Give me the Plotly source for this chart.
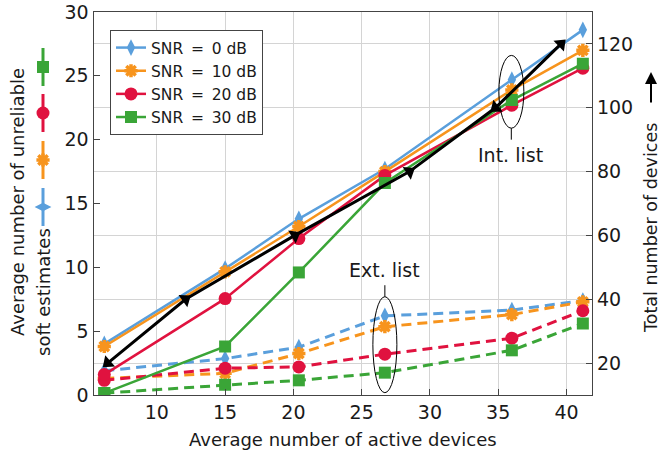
import plotly.graph_objects as go

# ---- data ----
x_active = [6.15, 15.0, 20.4, 26.7, 36.0, 41.2]

int_snr0 = [4.0, 9.9, 13.8, 17.7, 24.7, 28.6]
int_snr10 = [3.8, 9.65, 13.2, 17.5, 23.9, 27.0]
int_snr20 = [1.6, 7.55, 12.25, 17.2, 22.7, 25.6]
int_snr30 = [0.15, 3.8, 9.6, 16.6, 23.1, 25.95]

ext_snr0 = [1.9, 2.85, 3.75, 6.2, 6.65, 7.4]
ext_snr10 = [1.3, 1.7, 3.25, 5.35, 6.3, 7.3]
ext_snr20 = [1.15, 2.1, 2.2, 3.2, 4.45, 6.6]
ext_snr30 = [0.15, 0.8, 1.15, 1.75, 3.5, 5.6]

total_x = [6.4, 12.1, 20.1, 28.5, 34.8, 39.6]
total_devices = [20, 40, 60, 80, 100, 120]
arrow_angles = [139, -36, -30, -33, 142, -44]

series_names = ["SNR\u2002=\u20020 dB", "SNR\u2002=\u200210 dB",
                "SNR\u2002=\u200220 dB", "SNR\u2002=\u200230 dB"]
colors = ["#5a9fdc", "#f7941d", "#e0123f", "#3aa537"]
symbols = ["diamond-tall", "asterisk-open", "circle", "square"]
sizes = [12, 11, 13, 12]

x_ticks = [10, 15, 20, 25, 30, 35, 40]
left_ticks = [0, 5, 10, 15, 20, 25, 30]
right_ticks = [20, 40, 60, 80, 100, 120]

W, H = 663, 458
FONT = "DejaVu Sans"
TXT = "#1a1a1a"

fig = go.Figure()

ints = [int_snr0, int_snr10, int_snr20, int_snr30]
exts = [ext_snr0, ext_snr10, ext_snr20, ext_snr30]

def marker(i):
    m = dict(symbol=symbols[i], size=sizes[i], color=colors[i])
    if symbols[i] == "asterisk-open":
        m["line"] = dict(color=colors[i], width=3.5)
    else:
        m["line"] = dict(width=0)
    return m

# dashed (ext list)
for i in range(4):
    fig.add_trace(go.Scatter(x=x_active, y=exts[i], mode="lines+markers",
                             line=dict(color=colors[i], width=3, dash="10px,6px"),
                             marker=marker(i), showlegend=False,
                             xaxis="x", yaxis="y"))
# solid (int list)
for i in range(4):
    fig.add_trace(go.Scatter(x=x_active, y=ints[i], mode="lines+markers",
                             name=series_names[i],
                             line=dict(color=colors[i], width=2.5),
                             marker=marker(i), showlegend=True,
                             xaxis="x", yaxis="y"))

# total devices (right axis)
fig.add_trace(go.Scatter(x=total_x, y=total_devices, mode="lines+markers",
                         line=dict(color="black", width=3),
                         marker=dict(symbol="triangle-right", size=13, color="black",
                                     angle=arrow_angles),
                         showlegend=False, xaxis="x", yaxis="y2"))

# decorative rotated legend symbols beside the left title (pixel overlay axes)
sym_y = [207, 160, 113, 67]
for i in range(4):
    fig.add_trace(go.Scatter(x=[43, 43], y=[sym_y[i] - 19, sym_y[i] + 19], mode="lines",
                             line=dict(color=colors[i], width=3), showlegend=False,
                             xaxis="x3", yaxis="y3", hoverinfo="skip"))
    fig.add_trace(go.Scatter(x=[43], y=[sym_y[i]], mode="markers",
                             marker=dict(marker(i), symbol=("diamond-wide" if i == 0 else symbols[i])),
                             showlegend=False, xaxis="x3", yaxis="y3", hoverinfo="skip"))

x0p, x1p = 93.5 / W, 592 / W
y0p, y1p = 1 - 395 / H, 1 - 12 / H

axis_common = dict(showline=True, linecolor="#444", linewidth=1.2, ticks="inside",
                   ticklen=6, tickcolor="#444", zeroline=False, automargin=False,
                   tickfont=dict(family=FONT, size=19, color=TXT))

fig.update_layout(
    width=W, height=H,
    margin=dict(l=0, r=0, t=0, b=0, autoexpand=False),
    paper_bgcolor="white", plot_bgcolor="rgba(0,0,0,0)",
    font=dict(family=FONT, color=TXT),
    xaxis=dict(axis_common, domain=[x0p, x1p], range=[5.36, 41.87],
               tickvals=x_ticks, mirror=True, showgrid=True, gridcolor="#d4d4d4",
               gridwidth=1, anchor="y"),
    yaxis=dict(axis_common, domain=[y0p, y1p], range=[0, 30], tickvals=left_ticks,
               showgrid=False, anchor="x"),
    yaxis2=dict(axis_common, overlaying="y", side="right", range=[10, 130],
                tickvals=right_ticks, showgrid=True, gridcolor="#d4d4d4", gridwidth=1,
                anchor="x"),
    xaxis3=dict(domain=[0, 1], range=[0, W], visible=False, anchor="y3", fixedrange=True),
    yaxis3=dict(domain=[0, 1], range=[H, 0], visible=False, anchor="x3", fixedrange=True),
    legend=dict(x=110 / W, y=1 - 30 / H, xanchor="left", yanchor="top",
                bgcolor="white", bordercolor="#444", borderwidth=1,
                font=dict(family=FONT, size=15.5, color=TXT),
                tracegroupgap=0, itemwidth=30),
    showlegend=True,
)

# ellipses and labels
fig.add_shape(type="circle", xref="x", yref="y", x0=25.82, x1=27.58, y0=0.18, y1=7.7,
              line=dict(color="black", width=1))
fig.add_shape(type="line", xref="x", yref="y", x0=26.7, x1=26.7, y0=7.7, y1=8.6,
              line=dict(color="black", width=1))
fig.add_annotation(x=26.7, y=9.8, xref="x", yref="y", text="Ext. list", showarrow=False,
                   xanchor="center", yanchor="middle",
                   font=dict(family=FONT, size=19, color=TXT))

fig.add_shape(type="circle", xref="x", yref="y", x0=35.05, x1=36.88, y0=20.9, y1=26.6,
              line=dict(color="black", width=1))
fig.add_shape(type="line", xref="x", yref="y", x0=35.96, x1=35.96, y0=20.0, y1=20.9,
              line=dict(color="black", width=1))
fig.add_annotation(x=35.9, y=18.8, xref="x", yref="y", text="Int. list", showarrow=False,
                   xanchor="center", yanchor="middle",
                   font=dict(family=FONT, size=19, color=TXT))

# axis titles
def title(x, y, text, angle=0, size=18):
    fig.add_annotation(x=x / W, y=1 - y / H, xref="paper", yref="paper", text=text,
                       textangle=angle, showarrow=False, xanchor="center",
                       yanchor="middle", font=dict(family=FONT, size=size, color=TXT))

title((93.5 + 592) / 2, 439, "Average number of active devices")
title(17, 202, "Average number of unreliable", -90)
title(43, 292, "soft estimates", -90)
title(651, 228, "Total number of devices", -90, 17.5)
fig.add_annotation(x=651 / W, y=1 - 72 / H, xref="paper", yref="paper", text="",
                   showarrow=True, ax=0, ay=32, arrowhead=2, arrowsize=1.2,
                   arrowwidth=2, arrowcolor="black")

fig.write_html("out.html")
